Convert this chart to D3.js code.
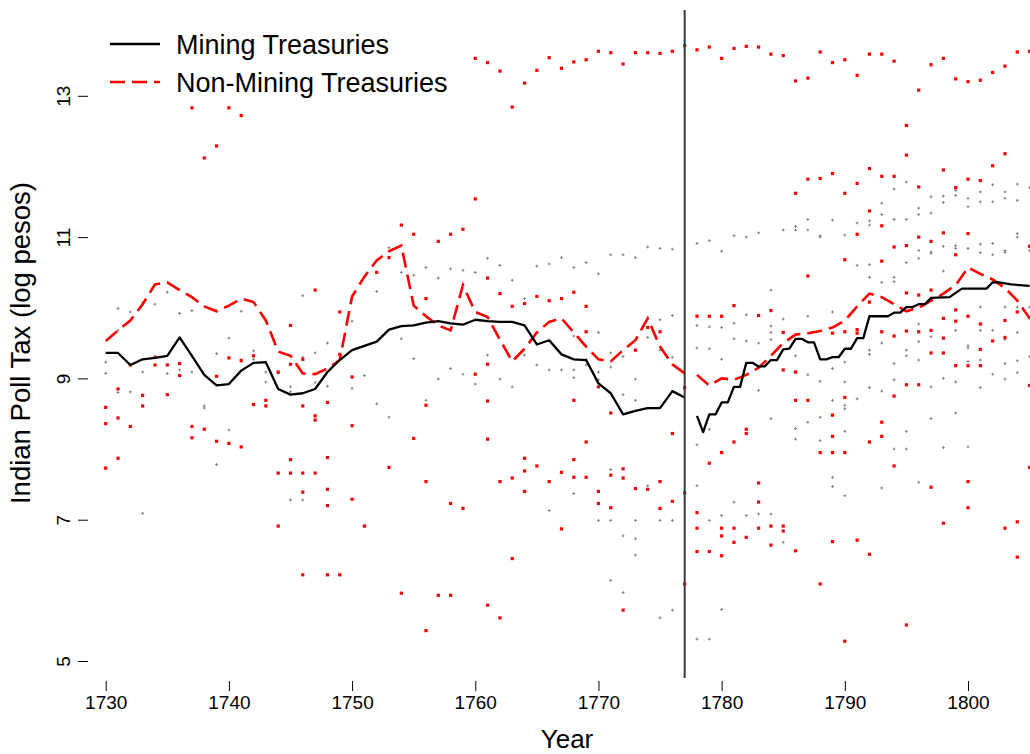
<!DOCTYPE html>
<html>
<head>
<meta charset="utf-8">
<title>Indian Poll Tax</title>
<style>
  body { margin: 0; background: #fff; }
  svg { display: block; font-family: "Liberation Sans", Arial, Helvetica, sans-serif; }
  .tick line { stroke: #000; stroke-width: 1; }
  .domain { display: none; }
</style>
<script src="https://cdn.jsdelivr.net/npm/d3@7/dist/d3.min.js"></script>
</head>
<body>
<div id="chart"></div>
<script>
// --- data (log pesos) ---
var xTicks = [1730, 1740, 1750, 1760, 1770, 1780, 1790, 1800];
var yTicks = [5, 7, 9, 11, 13];
var breakYear = 1777;

// mining treasuries, smoothed series (null = gap)
var miningYears = [1730,1731,1732,1733,1734,1735,1736,1737,1738,1739,1740,1741,1742,1743,1744,1745,1746,1747,1748,1749,
  1750,1751,1752,1753,1754,1755,1756,1757,1758,1759,1760,1761,1762,1763,1764,1765,1766,1767,1768,1769,
  1770,1771,1772,1773,1774,1775,1776,1777,1777.5,
  1778,1778.5,1779,1779.5,1780,1780.5,1781,1781.5,1782,1782.5,1783,1783.5,1784,1784.5,1785,1785.5,1786,1786.5,
  1787,1787.5,1788,1788.5,1789,1789.5,1790,1790.5,1791,1791.5,1792,1793.5,1794,1794.5,1795,1795.5,1796,1796.5,
  1797,1798.5,1799.5,1801.5,1802,1802.5,1803.5,1805];
var miningVals = [9.36,9.36,9.19,9.27,9.29,9.32,9.58,9.32,9.05,8.90,8.92,9.11,9.22,9.23,8.85,8.77,8.79,8.85,9.09,9.26,
  9.40,9.46,9.52,9.69,9.74,9.75,9.79,9.81,9.78,9.76,9.83,9.81,9.80,9.80,9.75,9.48,9.54,9.34,9.27,9.26,
  8.93,8.79,8.49,8.54,8.58,8.58,8.82,8.73,null,
  8.47,8.24,8.49,8.49,8.66,8.66,8.88,8.88,9.22,9.22,9.17,9.17,9.26,9.26,9.41,9.42,9.56,9.56,
  9.51,9.51,9.27,9.27,9.30,9.30,9.42,9.42,9.57,9.57,9.88,9.88,9.93,9.93,10.01,10.01,10.05,10.05,
  10.14,10.15,10.27,10.27,10.36,10.36,10.33,10.31];

// non-mining treasuries, smoothed series
var nonMiningYears = [1730,1731,1732,1733,1734,1735,1736,1737,1738,1739,1740,1741,1742,1743,1744,1745,1746,1747,1748,1749,
  1750,1751,1752,1753,1754,1755,1756,1757,1758,1759,1760,1761,1762,1763,1764,1765,1766,1767,1768,1769,
  1770,1771,1772,1773,1774,1775,1776,1777,1777.5,
  1778,1779,1780,1781,1782,1783,1784,1785,1786,1787,1788,1789,1790,1791,1792,1793,1794,1795,1796,1797,
  1798,1799,1800,1801,1802,1803,1804,1805];
var nonMiningVals = [9.53,9.68,9.82,10.05,10.33,10.36,10.25,10.15,10.02,9.95,10.03,10.13,10.08,9.82,9.38,9.32,9.07,9.06,9.14,9.26,
  10.16,10.44,10.67,10.80,10.88,10.03,9.88,9.75,9.68,10.32,9.94,9.87,9.55,9.24,9.42,9.65,9.80,9.85,9.65,9.45,
  9.27,9.24,9.40,9.54,9.85,9.45,9.20,9.07,null,
  9.05,8.90,9.00,8.98,9.05,9.15,9.32,9.50,9.62,9.64,9.67,9.72,9.82,10.02,10.20,10.15,10.05,9.95,10.00,10.10,
  10.20,10.32,10.57,10.48,10.40,10.28,10.10,9.85];

// treasury-level observations: non-mining (red)
var redPts = [
  [1730,8.59],[1730,8.36],[1730,7.73],[1731,8.85],[1731,8.44],[1731,7.87],[1732,9.19],[1732,8.32],
  [1733,8.76],[1733,8.61],[1734,9.30],[1734,9.19],[1735,9.19],[1735,8.77],[1736,9.21],[1736,9.04],
  [1737,12.83],[1737,8.32],[1737,8.16],[1738,12.12],[1738,8.28],[1739,12.29],[1739,9.03],[1739,8.11],
  [1740,12.83],[1740,9.29],[1740,8.08],[1741,12.72],[1741,9.25],[1741,8.03],[1742,9.32],[1742,8.63],
  [1743,8.69],[1743,8.61],[1744,9.09],[1744,7.66],[1744,6.91],[1745,9.75],[1745,9.20],[1745,7.85],[1745,7.66],
  [1746,9.27],[1746,8.61],[1746,7.66],[1746,7.39],[1746,6.22],[1747,10.25],[1747,8.47],[1747,8.41],[1747,7.66],
  [1748,8.66],[1748,7.88],[1748,7.43],[1748,7.20],[1748,6.22],[1749,9.94],[1749,9.34],[1749,6.22],
  [1750,9.02],[1750,8.33],[1750,7.29],[1751,6.91],[1752,10.50],[1753,10.71],[1753,7.74],
  [1754,11.17],[1754,5.96],[1755,11.04],[1755,8.15],[1756,10.13],[1756,8.62],[1756,7.54],[1756,5.43],
  [1757,10.94],[1757,5.93],[1758,11.04],[1758,7.23],[1758,5.93],[1759,11.11],[1759,7.16],
  [1760,13.53],[1760,11.54],[1760,9.06],[1761,13.47],[1761,10.42],[1761,9.20],[1761,8.68],[1761,8.14],[1761,5.79],
  [1762,13.35],[1762,10.20],[1762,7.54],[1762,5.61],[1763,12.84],[1763,10.02],[1763,7.59],[1763,6.45],
  [1764,13.18],[1764,10.06],[1764,7.87],[1764,7.69],[1764,7.40],[1765,13.36],[1765,10.16],[1765,7.76],
  [1766,13.54],[1766,10.10],[1766,7.54],[1767,13.39],[1767,10.13],[1767,7.67],[1767,6.87],
  [1768,13.48],[1768,10.22],[1768,8.69],[1768,7.85],[1768,7.60],[1769,13.51],[1769,10.02],[1769,9.66],[1769,8.10],[1769,7.60],
  [1770,13.63],[1770,8.88],[1770,7.40],[1770,7.23],[1771,13.61],[1771,8.51],[1771,7.63],[1771,7.17],
  [1772,13.45],[1772,7.72],[1772,7.59],[1772,5.72],[1773,13.61],[1773,9.40],[1773,7.44],
  [1774,13.61],[1774,9.72],[1774,7.43],[1775,13.60],[1775,9.66],[1775,7.54],[1775,7.16],
  [1776,13.63],[1776,8.22],[1776,7.26],[1777,13.71],[1777,8.87],[1777,7.38],[1777,6.09],
  [1778,13.65],[1778,9.88],[1778,7.10],[1778,6.88],[1778,6.55],[1779,13.69],[1779,9.88],[1779,7.80],[1779,6.55],
  [1780,13.53],[1780,9.88],[1780,7.95],[1780,6.88],[1780,6.77],[1780,6.49],
  [1781,13.67],[1781,10.03],[1781,8.10],[1781,6.88],[1781,6.68],[1782,13.70],[1782,8.28],[1782,8.22],[1782,6.75],
  [1783,13.69],[1783,9.89],[1783,7.52],[1783,7.25],[1783,6.88],[1784,13.59],[1784,9.96],[1784,6.91],[1784,6.64],
  [1785,13.57],[1785,9.65],[1785,9.12],[1785,6.91],[1785,6.84],[1786,13.21],[1786,11.62],[1786,9.09],[1786,8.69],[1786,6.56],
  [1787,13.25],[1787,11.82],[1787,10.45],[1787,8.69],[1788,13.62],[1788,11.83],[1788,7.95],[1788,6.09],
  [1789,13.47],[1789,11.90],[1789,9.64],[1789,8.48],[1789,8.18],[1789,7.95],[1789,6.69],
  [1790,13.51],[1790,11.62],[1790,10.68],[1790,9.66],[1790,8.73],[1790,7.95],[1790,5.28],
  [1791,13.29],[1791,11.76],[1791,11.04],[1791,9.69],[1791,9.64],[1791,6.71],
  [1792,13.59],[1792,11.97],[1792,11.37],[1792,10.08],[1792,8.10],[1792,6.51],
  [1793,13.59],[1793,11.86],[1793,11.16],[1793,10.66],[1793,9.66],[1793,8.38],[1793,8.18],
  [1794,13.49],[1794,11.86],[1794,10.86],[1794,9.60],[1794,8.75],[1794,7.76],
  [1795,12.58],[1795,12.16],[1795,10.88],[1795,10.21],[1795,9.67],[1795,8.91],[1795,5.51],
  [1796,13.08],[1796,11.71],[1796,11.00],[1796,10.18],[1796,9.66],[1796,8.91],
  [1797,13.44],[1797,10.94],[1797,10.25],[1797,9.68],[1797,9.36],[1797,7.46],
  [1798,13.53],[1798,11.95],[1798,11.06],[1798,9.85],[1798,9.57],[1798,9.36],[1798,6.95],
  [1799,13.24],[1799,11.70],[1799,10.75],[1799,9.97],[1799,9.81],[1799,9.18],
  [1800,13.20],[1800,11.82],[1800,11.05],[1800,9.88],[1800,9.18],[1800,7.54],[1800,7.17],
  [1801,13.22],[1801,11.80],[1801,9.77],[1801,9.41],[1801,9.18],[1802,13.33],[1802,12.01],[1802,9.53],
  [1803,13.42],[1803,12.18],[1803,9.82],[1803,9.58],[1803,6.88],[1804,13.62],[1804,9.94],[1804,6.97],[1804,6.47],
  [1805,13.63],[1805,10.87],[1805,9.86],[1805,8.90],[1805,7.74]
];

// treasury-level observations: mining (grey)
var grayPts = [
  [1730,9.23],[1730,9.07],[1731,9.99],[1731,9.68],[1731,8.80],[1732,9.94],[1732,8.81],[1733,10.07],[1733,9.09],[1733,7.09],
  [1734,10.05],[1735,10.22],[1735,9.07],[1736,9.92],[1736,9.12],[1737,9.96],[1737,9.09],[1738,8.61],[1738,8.58],
  [1739,9.35],[1739,7.78],[1740,9.57],[1740,8.27],[1741,9.95],[1741,9.27],[1742,9.39],[1742,9.27],[1743,9.09],[1743,8.95],
  [1744,9.07],[1745,8.88],[1745,8.81],[1745,7.28],[1746,10.17],[1746,9.30],[1746,7.28],[1747,9.36],[1747,8.94],
  [1748,9.50],[1748,8.89],[1749,9.33],[1750,9.81],[1750,8.86],[1751,9.04],[1752,10.23],[1752,8.64],[1753,10.85],[1753,8.45],
  [1754,10.50],[1754,9.56],[1755,10.46],[1755,9.28],[1756,10.57],[1756,8.69],[1757,10.42],[1757,8.99],
  [1758,10.55],[1758,9.14],[1759,10.53],[1759,9.06],[1760,10.50],[1760,8.92],[1761,10.70],[1761,9.33],
  [1762,10.60],[1762,8.99],[1763,10.39],[1763,8.88],[1764,10.13],[1764,9.33],[1765,10.59],[1765,9.19],
  [1766,10.62],[1766,9.12],[1766,7.13],[1767,10.71],[1767,9.12],[1768,10.57],[1768,9.60],[1768,9.12],[1768,9.01],[1768,7.37],
  [1769,10.64],[1769,9.27],[1769,9.19],[1770,10.48],[1770,9.65],[1770,9.09],[1770,8.98],[1770,6.99],
  [1771,10.75],[1771,9.36],[1771,9.16],[1771,7.71],[1771,6.99],[1771,6.14],[1772,10.75],[1772,9.31],[1772,8.77],[1772,6.77],[1772,5.97],
  [1773,10.71],[1773,8.99],[1773,8.69],[1773,6.99],[1773,6.73],[1773,6.50],[1774,10.86],[1774,9.58],[1774,7.48],
  [1775,10.84],[1775,9.83],[1775,9.40],[1775,6.99],[1775,5.61],[1776,10.83],[1776,9.89],[1776,9.30],[1776,6.99],[1776,5.72],
  [1778,10.91],[1778,9.75],[1778,9.43],[1778,8.06],[1778,7.48],[1778,5.31],[1779,10.95],[1779,9.73],[1779,9.42],[1779,8.28],[1779,6.99],[1779,5.31],
  [1780,10.80],[1780,9.72],[1780,9.27],[1780,7.06],[1780,5.73],[1781,11.02],[1781,9.78],[1781,9.56],[1781,7.25],
  [1782,11.00],[1782,9.90],[1782,9.53],[1782,7.06],[1783,11.06],[1783,9.50],[1783,8.83],[1783,7.08],
  [1784,10.25],[1784,9.74],[1784,9.65],[1784,9.55],[1784,8.43],[1784,7.08],[1785,11.10],[1785,9.84],[1785,6.68],
  [1786,11.15],[1786,11.10],[1786,9.32],[1786,8.29],[1786,8.14],[1787,11.25],[1787,11.10],[1787,9.88],[1787,9.05],[1787,8.38],
  [1788,11.02],[1788,11.00],[1788,8.96],[1788,8.45],[1788,8.12],[1789,11.24],[1789,9.94],[1789,9.14],[1789,8.69],[1789,7.60],[1789,7.47],
  [1790,11.03],[1790,9.23],[1790,8.95],[1790,8.62],[1790,8.57],[1790,8.25],[1790,7.34],[1791,11.20],[1791,10.60],[1791,8.71],
  [1792,11.23],[1792,11.17],[1792,10.61],[1792,10.43],[1792,9.40],[1792,9.34],[1792,8.87],
  [1793,11.48],[1793,11.32],[1793,10.36],[1793,9.50],[1793,8.82],[1793,7.45],
  [1794,11.68],[1794,11.25],[1794,10.43],[1794,10.37],[1794,9.21],[1794,8.98],[1794,8.00],
  [1795,11.78],[1795,11.25],[1795,10.64],[1795,9.40],[1795,9.32],[1795,8.25],[1795,8.00],
  [1796,11.41],[1796,11.32],[1796,10.81],[1796,10.70],[1796,9.77],[1796,9.52],[1796,9.26],[1796,7.53],
  [1797,11.57],[1797,11.34],[1797,10.79],[1797,10.77],[1797,9.59],[1797,8.88],[1797,8.43],
  [1798,11.58],[1798,11.49],[1798,10.87],[1798,10.52],[1798,9.00],[1798,8.02],
  [1799,11.66],[1799,11.59],[1799,10.88],[1799,10.84],[1799,9.68],[1799,8.95],[1799,8.51],
  [1800,11.55],[1800,11.43],[1800,10.84],[1800,9.46],[1800,9.43],[1800,9.24],[1800,8.03],
  [1801,11.64],[1801,11.50],[1801,10.90],[1801,10.78],[1801,10.01],[1801,9.68],[1801,9.26],[1801,8.87],
  [1802,11.74],[1802,11.50],[1802,10.91],[1802,10.75],[1802,9.68],[1802,9.06],
  [1803,11.64],[1803,11.55],[1803,10.81],[1803,10.78],[1803,10.01],[1803,9.55],[1803,9.21],[1803,8.99],
  [1804,11.75],[1804,11.52],[1804,11.05],[1804,11.00],[1804,10.01],[1804,9.65],[1804,9.25],[1804,9.08],
  [1805,11.70],[1805,10.81],[1805,10.01],[1805,9.31]
];

// --- chart ---
var w = 1030, h = 754;
var svg = d3.select("#chart").append("svg")
    .attr("width", w)
    .attr("height", h);

var x = d3.scaleLinear().domain([1730, 1800]).range([105.7, 968]);
var y = d3.scaleLinear().domain([5, 13]).range([661, 95.8]);

// points first, lines on top
svg.append("g").selectAll("path")
    .data(grayPts)
    .enter().append("path")
    .attr("d", function(d) {
      var px = x(d[0]), py = y(d[1]);
      return "M" + (px - 1.4) + "," + py + "H" + (px + 1.4) + "M" + px + "," + (py - 1.4) + "V" + (py + 1.4);
    })
    .attr("stroke", "#7f7f7f")
    .attr("stroke-width", 1)
    .attr("fill", "none");

svg.append("g").selectAll("rect")
    .data(redPts)
    .enter().append("rect")
    .attr("x", function(d) { return x(d[0]) - 1.6; })
    .attr("y", function(d) { return y(d[1]) - 1.6; })
    .attr("width", 3.2)
    .attr("height", 3.2)
    .attr("fill", "#ff0000");

var line = d3.line()
    .defined(function(d) { return d[1] !== null; })
    .x(function(d) { return x(d[0]); })
    .y(function(d) { return y(d[1]); });

var mining = miningYears.map(function(yr, i) { return [yr, miningVals[i]]; });
var nonMining = nonMiningYears.map(function(yr, i) { return [yr, nonMiningVals[i]]; });

svg.append("path")
    .datum(nonMining)
    .attr("d", line)
    .attr("fill", "none")
    .attr("stroke", "#ff0000")
    .attr("stroke-width", 2.6)
    .attr("stroke-dasharray", "15,7");

svg.append("path")
    .datum(mining)
    .attr("d", line)
    .attr("fill", "none")
    .attr("stroke", "#000")
    .attr("stroke-width", 2.3)
    .attr("stroke-linejoin", "round");

// vertical break line
svg.append("line")
    .attr("x1", x(breakYear)).attr("x2", x(breakYear))
    .attr("y1", 10).attr("y2", 678)
    .attr("stroke", "#3a3a3a")
    .attr("stroke-width", 2);

// axes
var xAxis = svg.append("g")
    .attr("transform", "translate(0,681)")
    .call(d3.axisBottom(x).tickValues(xTicks).tickSize(10).tickPadding(5).tickFormat(d3.format("d")));
xAxis.selectAll("text")
    .attr("fill", "#000")
    .style("font-size", "19px")
    .style("font-family", "'Liberation Sans', Arial, sans-serif");

var yAxis = svg.append("g")
    .attr("transform", "translate(88,0)")
    .call(d3.axisLeft(y).tickValues(yTicks).tickSize(10).tickFormat(d3.format("d")));
yAxis.selectAll("text")
    .attr("x", null)
    .attr("dy", null)
    .attr("text-anchor", "middle")
    .attr("transform", "translate(-18,0) rotate(-90)")
    .attr("fill", "#000")
    .style("font-size", "19px")
    .style("font-family", "'Liberation Sans', Arial, sans-serif");

svg.append("text")
    .attr("x", 567)
    .attr("y", 748)
    .attr("text-anchor", "middle")
    .style("font-size", "26px")
    .text("Year");

svg.append("text")
    .attr("transform", "translate(30,343) rotate(-90)")
    .attr("text-anchor", "middle")
    .style("font-size", "27.5px")
    .text("Indian Poll Tax (log pesos)");

// legend
var legend = svg.append("g");
legend.append("line")
    .attr("x1", 110).attr("x2", 160).attr("y1", 44).attr("y2", 44)
    .attr("stroke", "#000").attr("stroke-width", 2.3);
legend.append("line")
    .attr("x1", 110).attr("x2", 160).attr("y1", 82).attr("y2", 82)
    .attr("stroke", "#ff0000").attr("stroke-width", 2.6)
    .attr("stroke-dasharray", "15,7");
legend.append("text")
    .attr("x", 176).attr("y", 54)
    .style("font-size", "27px")
    .text("Mining Treasuries");
legend.append("text")
    .attr("x", 176).attr("y", 92)
    .style("font-size", "27px")
    .text("Non-Mining Treasuries");
</script>
</body>
</html>
